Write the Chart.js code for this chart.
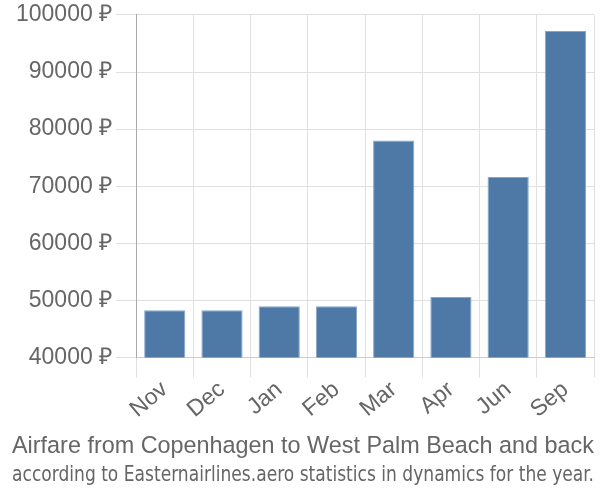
<!DOCTYPE html>
<html>
<head>
<meta charset="utf-8">
<script src="https://cdn.jsdelivr.net/npm/chart.js@4"></script>
<style>
  html, body { margin: 0; padding: 0; background: #fff; }
  #wrap { width: 600px; height: 500px; }
</style>
</head>
<body>
<div id="wrap"><canvas id="fareChart" width="600" height="500"></canvas></div>
<script>
"use strict";

const months = ["Nov", "Dec", "Jan", "Feb", "Mar", "Apr", "Jun", "Sep"];
const fares = [48300, 48300, 49000, 49000, 78000, 50600, 71600, 97200];
const yTicks = [40000, 50000, 60000, 70000, 80000, 90000, 100000];
const titleText = "Airfare from Copenhagen to West Palm Beach and back";
const subtitleText = "according to Easternairlines.aero statistics in dynamics for the year.";

const ctx = document.getElementById("fareChart").getContext("2d");
new Chart(ctx, {
  type: "bar",
  data: {
    labels: months,
    datasets: [{
      data: fares,
      backgroundColor: "#4e79a7",
      borderColor: "#86a6c9",
      borderWidth: 1,
      barPercentage: 0.8,
      categoryPercentage: 0.9
    }]
  },
  options: {
    responsive: false,
    animation: false,
    layout: { padding: { left: 12, right: 6, top: 0, bottom: 12 } },
    plugins: {
      legend: { display: false },
      tooltip: { enabled: false },
      title: {
        display: true,
        position: "bottom",
        weight: 2000,
        text: titleText,
        color: "#666",
        font: { family: "'Liberation Sans', Arial, sans-serif", size: 24.5, weight: "normal" },
        padding: { top: 10, bottom: 0 }
      },
      subtitle: {
        display: true,
        position: "bottom",
        weight: 2500,
        text: subtitleText,
        color: "#666",
        font: { family: "'Liberation Sans Narrow', 'DejaVu Sans Condensed', sans-serif", size: 20.5 },
        padding: { top: 2, bottom: 0 }
      }
    },
    scales: {
      x: {
        grid: { color: "#e0e0e0", tickLength: 20, lineWidth: 1 },
        border: { color: "#ccc" },
        ticks: {
          color: "#666",
          padding: -1.5,
          font: { family: "'Liberation Sans', Arial, sans-serif", size: 23 },
          maxRotation: 40,
          minRotation: 40
        }
      },
      y: {
        min: yTicks[0],
        max: yTicks[yTicks.length - 1],
        afterBuildTicks: axis => { axis.ticks = yTicks.map(v => ({ value: v })); },
        grid: { color: "#e0e0e0", tickLength: 20, lineWidth: 1 },
        border: { color: "#aaa" },
        ticks: {
          color: "#666",
          padding: 4,
          font: { family: "'Liberation Sans', Arial, sans-serif", size: 23, lineHeight: 0.95 },
          callback: v => v + " ₽"
        }
      }
    }
  }
});
</script>
</body>
</html>
